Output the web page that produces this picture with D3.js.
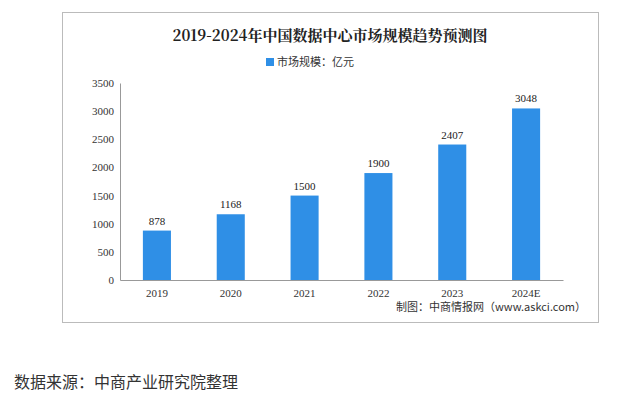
<!DOCTYPE html><html><head><meta charset="utf-8"><script src="https://cdn.jsdelivr.net/npm/d3@7"></script>
<style>body{margin:0;background:#fff}</style></head><body><svg id="c" width="640" height="404"></svg>
<script>
const categories=["2019","2020","2021","2022","2023","2024E"];
const values=[878,1168,1500,1900,2407,3048];
const yTicks=[0,500,1000,1500,2000,2500,3000,3500];
const svg=d3.select("#c");
svg.append("rect").attr("x",62.5).attr("y",12.5).attr("width",536).attr("height",310).attr("fill","#fff").attr("stroke","#bbb");
svg.append("text").attr("x",330).attr("y",41).attr("text-anchor","middle").attr("font-family","Noto Serif CJK SC, Noto Sans CJK SC").attr("font-weight","bold").attr("font-size",15).attr("fill","#222").text("2019-2024年中国数据中心市场规模趋势预测图");
svg.append("rect").attr("x",266).attr("y",58).attr("width",8).attr("height",8).attr("fill","#2f8fe6");
svg.append("text").attr("x",277).attr("y",66).attr("font-family","Noto Sans CJK SC").attr("font-size",11).attr("fill","#333").text("市场规模：亿元");
const x=d3.scaleBand().domain(categories).range([120,563]).paddingInner(0.62).paddingOuter(0.31);
const y=d3.scaleLinear().domain([0,3500]).range([280,83]);
const ga=svg.append("g").attr("transform","translate(120,0)").call(d3.axisLeft(y).tickValues(yTicks).tickFormat(d3.format("d")).tickSize(0).tickPadding(6));
ga.selectAll("text").attr("font-family","Liberation Serif").attr("font-size",11).attr("fill","#333");
ga.select(".domain").attr("stroke","#999");
const gx=svg.append("g").attr("transform","translate(0,280)").call(d3.axisBottom(x).tickSize(0).tickPadding(9));
gx.selectAll("text").attr("font-family","Liberation Serif").attr("font-size",11).attr("fill","#333");
gx.select(".domain").attr("stroke","#999");
svg.selectAll(".bar").data(values).enter().append("rect").attr("x",(d,i)=>x(categories[i])).attr("width",x.bandwidth()).attr("y",d=>y(d)).attr("height",d=>280-y(d)).attr("fill","#2f8fe6");
svg.selectAll(".lb").data(values).enter().append("text").attr("x",(d,i)=>x(categories[i])+x.bandwidth()/2).attr("y",d=>y(d)-6).attr("text-anchor","middle").attr("font-family","Liberation Serif").attr("font-size",11).attr("fill","#222").text(d=>d);
svg.append("text").attr("x",586).attr("y",311).attr("text-anchor","end").attr("font-family","Noto Sans CJK SC").attr("font-size",11).attr("fill","#333").text("制图：中商情报网（www.askci.com）");
svg.append("text").attr("x",14).attr("y",388).attr("font-family","Noto Sans CJK SC").attr("font-size",16).attr("fill","#333").text("数据来源：中商产业研究院整理");
</script></body></html>
